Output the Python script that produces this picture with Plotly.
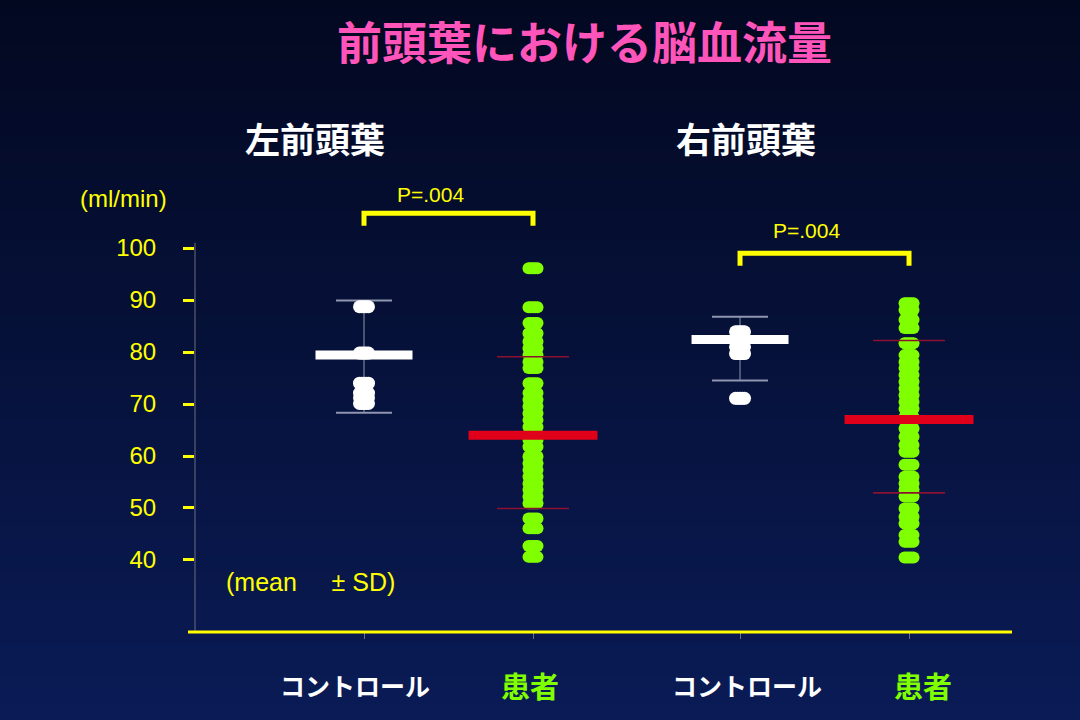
import plotly.graph_objects as go

# ---------------- data ----------------
panels = ["左前頭葉", "右前頭葉"]
groups = ["コントロール", "患者", "コントロール", "患者"]

ctrl_left = [88.7, 79.8, 74.0, 72.1, 71.2, 70.1]
pat_left = [96.1, 88.6, 85.6, 83.6, 82.0, 80.7, 79.4, 78.1, 76.9, 74.0,
            72.1, 70.8, 69.5, 68.2, 66.9, 65.6, 64.3, 63.1, 61.8, 59.9,
            58.6, 57.3, 56.0, 54.7, 53.5, 52.2, 50.9, 48.0, 46.1, 42.7, 40.6]
ctrl_right = [83.9, 82.3, 81.0, 79.7, 71.1]
pat_right = [89.4, 88.1, 86.2, 84.6, 81.7, 79.4, 78.1, 76.9, 75.6, 74.3,
             73.0, 71.7, 70.4, 69.1, 67.5, 65.3, 63.7, 62.1, 60.8, 58.3,
             56.0, 54.7, 53.5, 52.2, 49.9, 48.3, 47.0, 44.8, 43.5, 40.5]

means = [79.4, 64.0, 82.4, 67.0]
sd_high = [89.9, 79.1, 86.8, 82.2]
sd_low = [68.3, 49.9, 74.5, 52.9]
p_values = ["P=.004", "P=.004"]
ytick_vals = [40, 50, 60, 70, 80, 90, 100]
y_unit = "(ml/min)"
note = "(mean\u00a0\u00a0\u00a0\u00a0\u00a0± SD)"

# ---------------- layout constants ----------------
W, H = 1080, 720
L, R, T, B = 195, 68, 120, 88
PW, PH = W - L - R, H - T - B
X_POS = [1.0, 2.0, 3.225, 4.225]
PX_PER_X = 169.0
X_RANGE = [0.0, PW / PX_PER_X]
Y_RANGE = [26.15, 124.62]
BRACKET_Y = [106.7, 99.0]
BRACKET_DROP = 2.4
LINE_SYM = 1.4  # plotly draws line-ew symbols ~1.4x the marker size

YELLOW = "#ffff00"
GREEN = "#80ff00"
PINK = "#ff55bb"
RED = "#e0001a"
DARKRED = "#8c1030"
GRAY = "#9096b0"
JP = "Noto Sans CJK JP"
LAT = "Liberation Sans, Arial, sans-serif"


def px_x(px):
    return (px - L) / PW


def px_y(py):
    return (H - B - py) / PH


series = [ctrl_left, pat_left, ctrl_right, pat_right]
is_ctrl = [True, False, True, False]

fig = go.Figure()

# whiskers for controls
for i, vals in enumerate(series):
    if is_ctrl[i]:
        fig.add_trace(go.Scatter(x=[X_POS[i], X_POS[i]], y=[sd_low[i], sd_high[i]],
                                 mode="lines", line=dict(color=GRAY, width=1),
                                 hoverinfo="skip", showlegend=False))
        fig.add_trace(go.Scatter(x=[X_POS[i], X_POS[i]], y=[sd_low[i], sd_high[i]],
                                 mode="markers",
                                 marker=dict(symbol="line-ew", size=56 / LINE_SYM,
                                             line=dict(color=GRAY, width=2)),
                                 hoverinfo="skip", showlegend=False))

# points (ellipse-like: several overlapping circles)
for i, vals in enumerate(series):
    if is_ctrl[i]:
        color, size, offs = "#ffffff", 13, (-4.5, -2.25, 0, 2.25, 4.5)
    else:
        color, size, offs = GREEN, 12, (-4.5, -2.25, 0, 2.25, 4.5)
    for d in offs:
        fig.add_trace(go.Scatter(x=[X_POS[i] + d / PX_PER_X] * len(vals), y=vals,
                                 mode="markers",
                                 marker=dict(color=color, size=size, line=dict(width=0)),
                                 hoverinfo="skip", showlegend=False))

# SD lines for patients
for i in range(4):
    if not is_ctrl[i]:
        fig.add_trace(go.Scatter(x=[X_POS[i], X_POS[i]], y=[sd_low[i], sd_high[i]],
                                 mode="markers",
                                 marker=dict(symbol="line-ew", size=72 / LINE_SYM,
                                             line=dict(color=DARKRED, width=1.6)),
                                 hoverinfo="skip", showlegend=False))

# mean bars
for i in range(4):
    fig.add_trace(go.Scatter(x=[X_POS[i]], y=[means[i]], mode="markers",
                             marker=dict(symbol="line-ew",
                                         size=(97 if is_ctrl[i] else 129) / LINE_SYM,
                                         line=dict(color="#ffffff" if is_ctrl[i] else RED,
                                                   width=9)),
                             hoverinfo="skip", showlegend=False))

shapes = []
# background gradient
N = 48
c0, c1 = (3, 8, 32), (10, 27, 86)
for k in range(N):
    t = (k + 0.5) / N
    col = tuple(int(round(a + (b - a) * t)) for a, b in zip(c0, c1))
    shapes.append(dict(type="rect", xref="paper", yref="paper",
                       x0=px_x(-5), x1=px_x(W + 5),
                       y0=px_y(k * H / N - 0.5), y1=px_y((k + 1) * H / N + 0.5),
                       fillcolor="rgb(%d,%d,%d)" % col, line=dict(width=0), layer="below"))
# y axis line
shapes.append(dict(type="line", xref="paper", yref="y", x0=0, x1=0,
                   y0=Y_RANGE[0], y1=101, line=dict(color="#6a6e80", width=1)))
# baseline
shapes.append(dict(type="line", xref="paper", yref="paper", x0=px_x(188), x1=1,
                   y0=0, y1=0, line=dict(color=YELLOW, width=3)))
# brackets
for j in range(2):
    xa, xb = X_POS[2 * j], X_POS[2 * j + 1]
    yt = BRACKET_Y[j]
    yb = yt - BRACKET_DROP
    shapes.append(dict(type="path", xref="x", yref="y",
                       path=f"M {xa},{yb} L {xa},{yt} L {xb},{yt} L {xb},{yb}",
                       line=dict(color=YELLOW, width=5)))

annotations = []


def ann(text, px, py, color, size, family, bold=False):
    annotations.append(dict(text=f"<b>{text}</b>" if bold else text,
                            xref="paper", yref="paper", x=px_x(px), y=px_y(py),
                            xanchor="center", yanchor="middle", showarrow=False,
                            font=dict(color=color, size=size, family=family)))


ann("前頭葉における脳血流量", 584, 40, PINK, 45, JP, True)
ann(panels[0], 315, 137, "#ffffff", 35, JP, True)
ann(panels[1], 746, 137, "#ffffff", 35, JP, True)
cat_px = [355, 530, 747, 923]
for i, g in enumerate(groups):
    ann(g, cat_px[i], 685, "#ffffff" if is_ctrl[i] else GREEN,
        25 if is_ctrl[i] else 29, JP, True)
ann(y_unit, 123, 198, YELLOW, 24, LAT)
ann(p_values[0], 430, 194, YELLOW, 21, LAT)
ann(p_values[1], 806, 230, YELLOW, 21, LAT)
ann(note, 310, 582, YELLOW, 25, LAT)

fig.update_layout(
    width=W, height=H,
    margin=dict(l=L, r=R, t=T, b=B, pad=0),
    paper_bgcolor="#061445",
    plot_bgcolor="rgba(0,0,0,0)",
    showlegend=False,
    shapes=shapes,
    annotations=annotations,
    xaxis=dict(range=X_RANGE, showgrid=False, zeroline=False, showline=False,
               tickvals=X_POS, ticks="outside", ticklen=6, tickcolor="#6a6e80",
               tickwidth=1, showticklabels=False, fixedrange=True),
    yaxis=dict(range=Y_RANGE, showgrid=False, zeroline=False, showline=False,
               tickvals=ytick_vals, ticks="outside", ticklen=11, tickwidth=3,
               tickcolor=YELLOW, ticklabelstandoff=22,
               tickfont=dict(color=YELLOW, size=24, family=LAT), fixedrange=True),
)

fig.write_html("out.html", config={"displayModeBar": False},
               post_script="document.body.style.margin='0';document.body.style.overflow='hidden';")
